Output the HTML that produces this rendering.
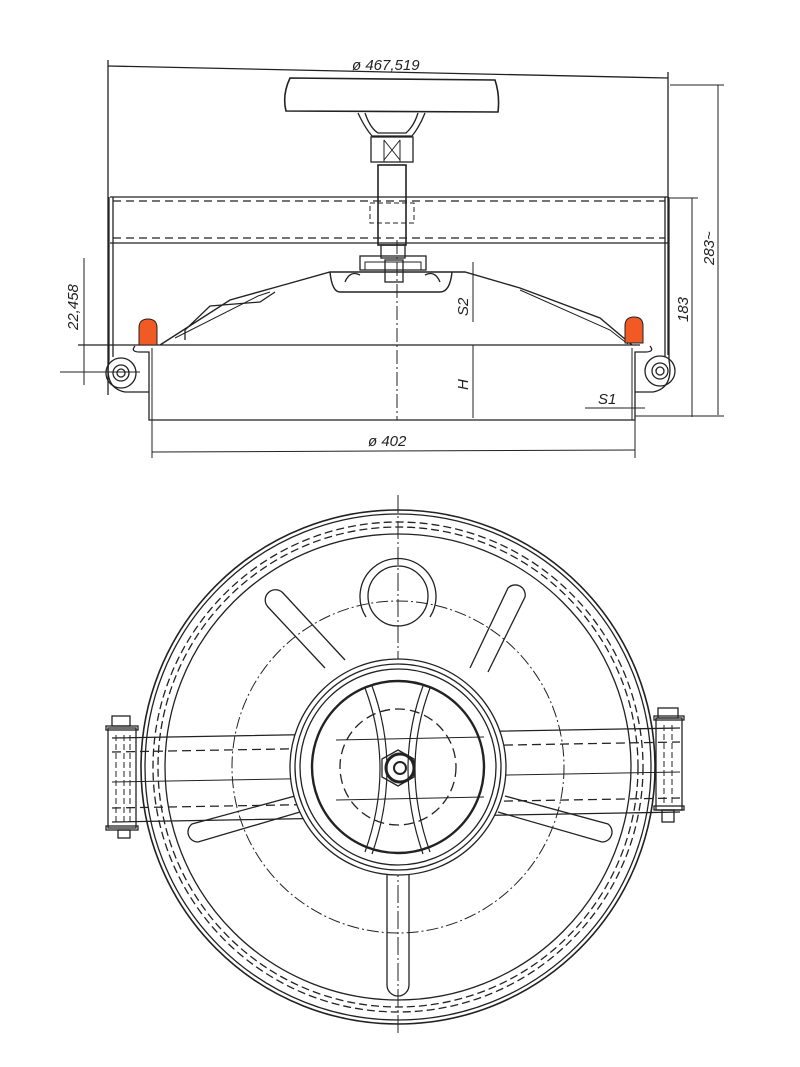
<!DOCTYPE html>
<html><head><meta charset="utf-8"><style>
html,body{margin:0;padding:0;background:#fff;}
svg{display:block}
text{font-family:"Liberation Sans",sans-serif;font-style:italic;fill:#222;font-size:15px}
</style></head><body>
<svg width="800" height="1067" viewBox="0 0 800 1067" xmlns="http://www.w3.org/2000/svg" fill="none" stroke="#222" stroke-width="1.3">
<!-- ===== TOP VIEW ===== -->
<line x1="108" y1="66" x2="668" y2="78"/>
<line x1="108" y1="60" x2="108" y2="395"/>
<line x1="668" y1="72" x2="668" y2="355"/>
<text x="352" y="70" stroke="none">ø 467,519</text>
<path d="M290 78 L495 80 Q500 95 498 112 L286 111 Q282 95 290 78 Z" stroke-width="1.6"/>
<path d="M358 113 Q365 128 372 136 L412 136 Q420 126 425 113"/>
<path d="M365 113 Q370 128 378 133 L406 133 Q414 126 418 113"/>
<rect x="371" y="137" width="42" height="25"/>
<path d="M384 140 L400 160 M400 140 L384 160 M384 140 V162 M400 140 V162" stroke-width="1"/>
<rect x="378" y="165" width="28" height="80" stroke-width="1.6"/>
<rect x="381" y="245" width="24" height="13"/>
<line x1="110" y1="197" x2="668" y2="197"/>
<line x1="110" y1="243" x2="668" y2="243"/>
<line x1="113" y1="201" x2="665" y2="201" stroke-dasharray="8 5"/>
<line x1="113" y1="238" x2="665" y2="238" stroke-dasharray="8 5"/>
<rect x="370" y="203" width="44" height="20" stroke-dasharray="5 3" stroke-width="1"/>
<line x1="109" y1="197" x2="109" y2="360"/>
<line x1="113" y1="197" x2="113" y2="357"/>
<line x1="665" y1="197" x2="665" y2="357"/>
<line x1="669" y1="197" x2="669" y2="360"/>
<rect x="360" y="256" width="66" height="14"/>
<rect x="365" y="262" width="56" height="8" stroke-width="1"/>
<rect x="385" y="260" width="18" height="22"/>
<path d="M160 345 L230 300 L280 286 L330 272 L465 272 L520 288 L600 318 L632 345" stroke-width="1.4"/>
<path d="M185 340 L185 330 L210 306 L260 302 L275 292"/>
<path d="M175 338 L258 296 L270 292" stroke-width="1"/>
<path d="M330 272 Q332 292 340 292 L440 292 Q450 292 452 272" stroke-width="1.4"/>
<path d="M345 282 Q350 270 360 275 M425 275 Q435 270 440 282"/>
<path d="M520 290 L610 330 Q620 338 628 344" stroke-width="1"/>
<line x1="78" y1="345" x2="640" y2="345"/>
<path d="M135 346 Q130 352 140 352 L149 352 L149 420 L635 420 L635 352 L645 352 Q655 352 650 346"/>
<path d="M152 348 L152 420 M632 348 L632 420" stroke-width="1"/>
<path d="M109 360 Q104 388 125 392 L149 392"/>
<circle cx="121" cy="373" r="15"/><circle cx="121" cy="373" r="8"/><circle cx="121" cy="373" r="4"/>
<path d="M669 360 Q674 388 653 392 L635 392"/>
<circle cx="660" cy="371" r="15"/><circle cx="660" cy="371" r="8"/><circle cx="660" cy="371" r="4"/>
<line x1="60" y1="372" x2="140" y2="372" stroke-width="1"/>
<path d="M139 345 L139 328 Q139 319 148 319 Q157 319 157 328 L157 345 Z" fill="#f15a24" stroke="#222" stroke-width="1"/>
<path d="M625 343 L625 326 Q625 317 634 317 Q643 317 643 326 L643 343 Z" fill="#f15a24" stroke="#222" stroke-width="1"/>
<line x1="397" y1="240" x2="397" y2="420" stroke-dasharray="14 3 2 3" stroke-width="1"/>
<line x1="84" y1="258" x2="84" y2="385" stroke-width="1"/>
<text transform="translate(78,330) rotate(-90)" stroke="none">22,458</text>
<line x1="473" y1="262" x2="473" y2="322" stroke-width="1"/>
<text transform="translate(468,316) rotate(-90)" stroke="none">S2</text>
<line x1="473" y1="345" x2="473" y2="418" stroke-width="1"/>
<text transform="translate(468,390) rotate(-90)" stroke="none">H</text>
<text x="598" y="404" stroke="none">S1</text>
<line x1="585" y1="408" x2="645" y2="408" stroke-width="1"/>
<line x1="692" y1="198" x2="692" y2="417" stroke-width="1"/>
<line x1="670" y1="198" x2="698" y2="198" stroke-width="1"/>
<text transform="translate(688,322) rotate(-90)" stroke="none">183</text>
<line x1="718" y1="85" x2="718" y2="415" stroke-width="1"/>
<line x1="670" y1="85" x2="724" y2="85" stroke-width="1"/>
<line x1="635" y1="416" x2="724" y2="416" stroke-width="1"/>
<text transform="translate(714,265) rotate(-90)" stroke="none">283~</text>
<line x1="152" y1="420" x2="152" y2="458" stroke-width="1"/>
<line x1="635" y1="420" x2="635" y2="458" stroke-width="1"/>
<line x1="152" y1="452" x2="635" y2="450" stroke-width="1"/>
<text x="368" y="446" stroke="none">ø 402</text>

<!-- ===== BOTTOM VIEW ===== -->
<line x1="398" y1="495" x2="398" y2="1035" stroke-dasharray="18 3 2 3" stroke-width="1"/>
<circle cx="398" cy="767" r="257" stroke-width="1.6"/>
<circle cx="398" cy="767" r="253"/>
<circle cx="398" cy="767" r="245" stroke-dasharray="8 4"/>
<circle cx="398" cy="767" r="240" stroke-dasharray="8 4"/>
<circle cx="398" cy="767" r="233"/>
<circle cx="398" cy="767" r="166" stroke-dasharray="12 3 2 3" stroke-width="1"/>
<path d="M366 617 A38 38 0 1 1 430 617"/>
<circle cx="398" cy="596" r="30"/>
<path d="M325 668 L268 607 A10 10 0 0 1 283 593 L345 660" />
<path d="M470 668 L508 588 A10 10 0 0 1 525 597 L488 672"/>
<path d="M300 812 L198 842 A10 10 0 0 1 192 824 L295 796"/>
<path d="M498 812 L602 842 A10 10 0 0 0 608 824 L505 796"/>
<path d="M387 875 L387 985 A11 11 0 0 0 409 985 L409 875"/>
<path d="M112 738 L680 728 M112 822 L680 812" stroke-width="1.3"/>
<path d="M112 752 L680 742 M112 808 L680 798" stroke-dasharray="9 5"/>
<line x1="112" y1="782" x2="680" y2="772" stroke-width="1"/>
<circle cx="398" cy="767" r="108" fill="#fff"/>
<circle cx="398" cy="767" r="103"/>
<circle cx="398" cy="767" r="98"/>
<circle cx="398" cy="767" r="86" stroke-width="2.4"/>
<path d="M336 740 L484 737 M336 800 L484 797" stroke-width="1"/>
<circle cx="398" cy="767" r="58" stroke-dasharray="10 5"/>
<path d="M365 688 Q395 768 365 852 M372 686 Q402 768 372 854 M430 688 Q400 768 430 852 M423 686 Q393 768 423 854" stroke-width="1.2"/>
<path d="M398 750 L414 759 L414 777 L398 786 L382 777 L382 759 Z"/>
<circle cx="400" cy="768" r="14" stroke-width="3"/>
<circle cx="400" cy="768" r="6" stroke-width="2"/>
<rect x="108" y="728" width="28" height="100"/>
<rect x="112" y="716" width="18" height="10"/>
<rect x="106" y="726" width="32" height="4"/>
<rect x="106" y="826" width="32" height="4"/>
<rect x="118" y="830" width="12" height="8"/>
<path d="M116 735 V825 M124 735 V825 M130 735 V825" stroke-dasharray="6 3" stroke-width="1"/>
<rect x="656" y="718" width="26" height="92"/>
<rect x="658" y="708" width="20" height="10"/>
<rect x="654" y="716" width="30" height="4"/>
<rect x="654" y="806" width="30" height="4"/>
<rect x="662" y="810" width="12" height="12"/>
<path d="M664 725 V805 M672 725 V805" stroke-dasharray="6 3" stroke-width="1"/>
</svg>
</body></html>
